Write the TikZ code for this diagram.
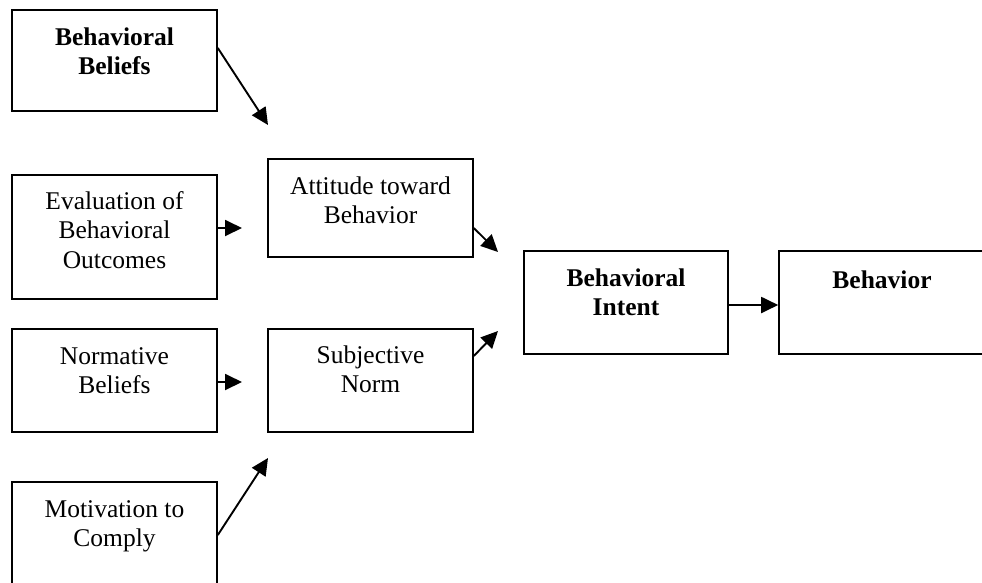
\documentclass[tikz,border=0pt]{standalone}
\usepackage{fontspec}
\setmainfont{Liberation Serif}
\usetikzlibrary{arrows.meta}
\begin{document}
\begin{tikzpicture}[x=1pt,y=-1pt,
  boxnode/.style={draw=black,line width=1.6pt,rectangle,inner sep=0pt,minimum width=205pt},
  txt/.style={anchor=north,inner sep=0pt,align=center,font=\fontsize{25.5}{29.5}\selectfont},
  btxt/.style={txt,font=\fontsize{25.5}{29.5}\selectfont\bfseries},
  arr/.style={line width=1.9pt,-{Triangle[length=17pt,width=16pt]}}]
\useasboundingbox (0,0) rectangle (982,582);
% boxes
\node[boxnode,minimum height=101pt] (bb) at (114.5,60.5) {};
\node[boxnode,minimum height=124pt] (ev) at (114.5,237) {};
\node[boxnode,minimum height=103pt] (nb) at (114.5,380.5) {};
\node[boxnode,minimum height=118pt] (mc) at (114.5,541) {};
\node[boxnode,minimum height=98pt] (at) at (370.5,208) {};
\node[boxnode,minimum height=103pt] (sn) at (370.5,380.5) {};
\node[boxnode,minimum height=103pt,minimum width=204pt] (bi) at (626,302.5) {};
\node[boxnode,minimum height=103pt,minimum width=206pt] (be) at (882,302.5) {};
% texts
\node[btxt] (bbt) at (114.5,25) {\rule{0pt}{20pt}Behavioral\\Beliefs};
\node[txt] (evt) at (114.5,189) {\rule{0pt}{20pt}Evaluation of\\Behavioral\\Outcomes};
\node[txt] (nbt) at (114.5,344) {\rule{0pt}{20pt}Normative\\Beliefs};
\node[txt] (mct) at (114.5,497) {\rule{0pt}{20pt}Motivation to\\Comply};
\node[txt] (att) at (370.5,174) {\rule{0pt}{20pt}Attitude toward\\Behavior};
\node[txt] (snt) at (370.5,343) {\rule{0pt}{20pt}Subjective\\Norm};
\node[btxt] (bit) at (626,266) {\rule{0pt}{20pt}Behavioral\\Intent};
\node[btxt] (bet) at (882,268) {\rule{0pt}{20pt}Behavior};
% arrow tips
\coordinate (t1) at (268,125);
\coordinate (t2) at (242,228);
\coordinate (t3) at (242,382);
\coordinate (t4) at (268,458);
\coordinate (t5) at (498,252);
\coordinate (t6) at (498,331);
% connectors
\draw[arr] ([yshift=12.5pt]bb.east) -- (t1);
\draw[arr] ([yshift=9pt]ev.east) -- (t2);
\draw[arr] ([yshift=-1.5pt]nb.east) -- (t3);
\draw[arr] ([yshift=6pt]mc.east) -- (t4);
\draw[arr] ([yshift=-20pt]at.east) -- (t5);
\draw[arr] ([yshift=24.5pt]sn.east) -- (t6);
\draw[arr] ([yshift=-2.5pt]bi.east) -- ([yshift=-2.5pt]be.west);
\end{tikzpicture}
\end{document}
